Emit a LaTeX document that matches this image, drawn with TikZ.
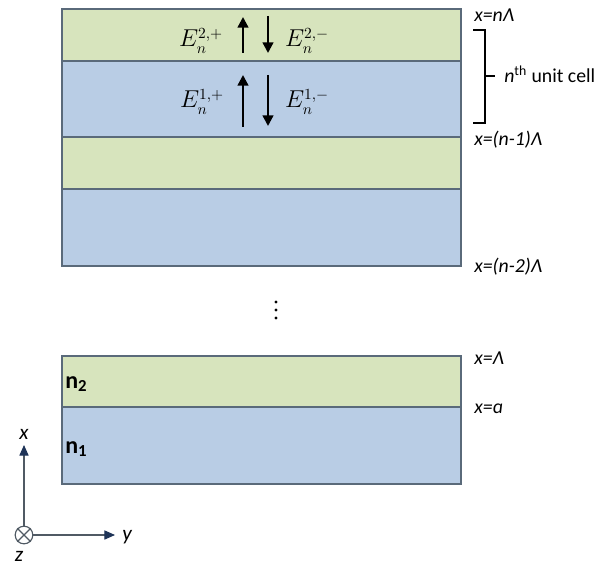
\documentclass[tikz,border=0pt]{standalone}
\usepackage{fontspec}
\setmainfont{Carlito}
\usetikzlibrary{arrows.meta}
\definecolor{layergreen}{HTML}{D7E4BD}
\definecolor{layerblue}{HTML}{B9CDE5}
\definecolor{layeredge}{HTML}{5A6A7A}
\definecolor{axisgray}{HTML}{505A64}
\definecolor{axistip}{HTML}{1F3458}
\tikzset{
  layer/.style={draw=layeredge, line width=0.8pt},
  field/.style={line width=1.6pt, -{Triangle[length=7.5pt,width=7.5pt]}},
  xlabel/.style={anchor=west, font=\fontsize{14}{16}\selectfont\itshape, inner sep=0pt},
  efield/.style={anchor=base, inner sep=0pt, font=\fontsize{16}{18}\selectfont},
  index/.style={anchor=base west, inner sep=0pt, font=\fontsize{17}{19}\selectfont\bfseries},
  axis/.style={draw=axisgray, line width=0.8pt, -{Triangle[length=7.5pt,width=6.5pt,color=axistip]}}
}
\begin{document}
\begin{tikzpicture}[x=0.708pt, y=-0.708pt]
	\useasboundingbox (0,0) rectangle (606,567);
	\draw[layer, fill=layergreen] (62,9) rectangle (461,61);
	\draw[layer, fill=layerblue] (62,61) rectangle (461,137);
	\draw[layer, fill=layergreen] (62,137) rectangle (461,189);
	\draw[layer, fill=layerblue] (62,189) rectangle (461,266);
	\draw[layer, fill=layergreen] (62,356) rectangle (461,407);
	\draw[layer, fill=layerblue] (62,407) rectangle (461,484);

	\node[efield] (E2p) at (201,47) {$E_n^{2,+}$};
	\node[efield] (E2m) at (307,47) {$E_n^{2,-}$};
	\node[efield] (E1p) at (202,108) {$E_n^{1,+}$};
	\node[efield] (E1m) at (307,108) {$E_n^{1,-}$};
	\coordinate (A) at (243,53);
	\coordinate (B) at (243,17);
	\coordinate (C) at (268,16);
	\coordinate (D) at (268,53);
	\coordinate (A2) at (243,127);
	\coordinate (B2) at (243,75);
	\coordinate (C2) at (268,75);
	\coordinate (D2) at (268,126);
	\draw[field] (A) -- (B);
	\draw[field] (C) -- (D);
	\draw[field] (A2) -- (B2);
	\draw[field] (C2) -- (D2);

	\node[xlabel] (L1) at (474,15) {x=nΛ};
	\node[xlabel] (L2) at (474,140) {x=(n-1)Λ};
	\node[xlabel] (L3) at (474,267) {x=(n-2)Λ};
	\node[xlabel] (L4) at (474,358) {x=Λ};
	\node[xlabel] (L5) at (474,409) {x=ɑ};
	\draw[line width=1.4pt] (473,30) -- (485,30) -- (485,123) -- (473,123);
	\draw[line width=1.4pt] (485,76) -- (495,76);
	\node[anchor=west, inner sep=0pt, font=\fontsize{14}{16}\selectfont] (cell) at (504,74) {\textit{n}\textsuperscript{th} unit cell};

	\foreach \y in {302,310,318}
		\fill (276,\y) circle (1.6);

	\node[index] (n2) at (65,388) {n\textsubscript{2}};
	\node[index] (n1) at (65,453) {n\textsubscript{1}};

	\node[circle, draw=axisgray, line width=0.8pt, minimum size=12.5pt, inner sep=0pt] (O) at (24,535) {};
	\draw[axisgray, line width=0.8pt] (O.north west) -- (O.south east) (O.north east) -- (O.south west);
	\coordinate (X) at (24,445);
	\coordinate (Y) at (115,535);
	\draw[axis] (O) -- (X);
	\draw[axis] (O) -- (Y);
	\node[font=\fontsize{15}{17}\selectfont\itshape, inner sep=0pt] (xl) at (24,434) {x};
	\node[font=\fontsize{15}{17}\selectfont\itshape, inner sep=0pt] (yl) at (127,537) {y};
	\node[font=\fontsize{15}{17}\selectfont\itshape, inner sep=0pt] (zl) at (19,556) {z};
\end{tikzpicture}
\end{document}
